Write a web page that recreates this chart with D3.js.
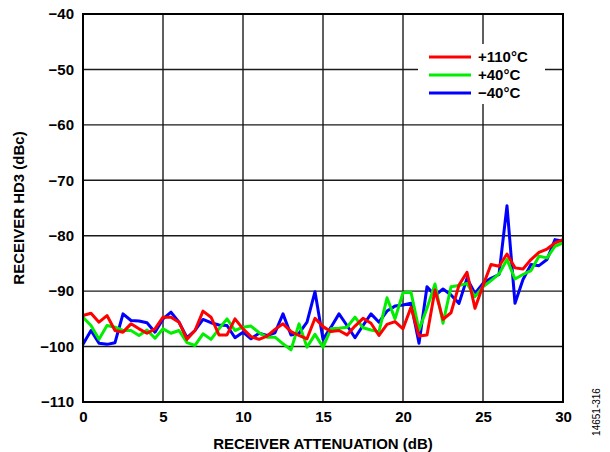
<!DOCTYPE html>
<html><head><meta charset="utf-8">
<script src="https://cdn.jsdelivr.net/npm/d3@7"></script>
<style>
body{margin:0;background:#fff;}
text{font-family:"Liberation Sans",Arial,sans-serif;}
</style></head>
<body><svg id="c" width="610" height="452"></svg>
<script>
const attenuation = d3.range(0, 30.01, 0.5);
const hd3_110C = [-94.4,-94.0,-95.6,-94.4,-97.1,-97.4,-95.9,-96.8,-97.6,-96.8,-94.7,-94.7,-95.6,-98.7,-97.1,-93.6,-94.7,-97.9,-97.9,-95.0,-96.8,
 -98.2,-98.7,-98.1,-96.9,-95.9,-97.3,-98.0,-98.6,-94.9,-96.4,-97.3,-97.1,-97.9,-96.3,-94.9,-95.8,-98.0,-96.0,-95.5,-96.8,
 -92.9,-98.1,-97.9,-89.8,-95.1,-93.9,-88.9,-86.6,-93.1,-89.0,-85.2,-85.5,-83.3,-85.8,-86.0,-84.3,-83.0,-82.4,-81.3,-80.7];
const hd3_40C = [-94.7,-96.2,-98.7,-96.2,-96.5,-97.1,-97.1,-98.0,-97.0,-98.5,-96.8,-97.6,-97.1,-99.3,-99.8,-97.7,-98.7,-96.8,-95.0,-97.1,-96.5,
 -96.3,-97.5,-98.3,-98.3,-99.5,-100.6,-95.9,-100.1,-97.8,-100.1,-96.8,-96.7,-96.5,-94.7,-96.6,-97.0,-97.3,-91.2,-95.0,-90.3,
 -90.2,-97.0,-93.1,-88.7,-95.8,-89.2,-89.0,-88.6,-91.0,-89.2,-88.1,-86.9,-84.3,-87.8,-87.0,-86.3,-83.7,-84.0,-81.9,-81.3];
const hd3_m40C = [-99.6,-97.1,-99.4,-99.6,-99.3,-94.1,-95.3,-95.4,-95.7,-97.4,-95.0,-93.8,-95.6,-98.4,-97.1,-95.1,-95.7,-96.1,-96.2,-98.4,-97.4,
 -98.6,-97.6,-98.0,-97.5,-94.1,-97.9,-97.6,-95.6,-90.1,-98.7,-96.5,-94.1,-96.2,-98.4,-96.2,-94.1,-95.6,-93.6,-92.7,-92.5,
 -92.2,-99.4,-89.2,-90.8,-89.6,-90.7,-92.2,-87.7,-90.4,-88.6,-87.7,-87.0,-74.6,-92.2,-87.9,-85.2,-85.4,-84.3,-80.7,-81.0];
const seriesNames = ["+110°C","+40°C","\u221240°C"];
const seriesColors = ["#ff0000","#00ee00","#0000ff"];
const xTicks = [0,5,10,15,20,25,30];
const yTicks = [-110,-100,-90,-80,-70,-60,-50,-40];

const FS = 15;
const svg = d3.select("#c");
const L=83, R=563, T=14, B=402;
const x = d3.scaleLinear().domain([0,30]).range([L,R]);
const y = d3.scaleLinear().domain([-110,-40]).range([B,T]);

// grid
const g = svg.append("g");
g.selectAll(".vx").data(xTicks).join("line").attr("x1",d=>x(d)).attr("x2",d=>x(d)).attr("y1",T).attr("y2",B)
 .attr("stroke","#1a1a1a").attr("stroke-width",1.4);
g.selectAll(".hy").data(yTicks).join("line").attr("y1",d=>y(d)).attr("y2",d=>y(d)).attr("x1",L).attr("x2",R)
 .attr("stroke","#1a1a1a").attr("stroke-width",1.4);

// legend background
svg.append("rect").attr("x",418).attr("y",44).attr("width",127).attr("height",60).attr("fill","#fff");

// lines
const all = [hd3_110C, hd3_40C, hd3_m40C];
const line = d3.line().x((d,i)=>x(attenuation[i])).y(d=>y(d));
[2,1,0].forEach(k=>{
  svg.append("path").datum(all[k]).attr("d",line).attr("fill","none")
   .attr("stroke",seriesColors[k]).attr("stroke-width",3).attr("stroke-linejoin","round");
});

// frame
svg.append("rect").attr("x",L).attr("y",T).attr("width",R-L).attr("height",B-T)
 .attr("fill","none").attr("stroke","#000").attr("stroke-width",2);

// axes labels
const xa = svg.append("g").attr("transform",`translate(0,${B})`)
 .call(d3.axisBottom(x).tickValues(xTicks).tickSize(0).tickPadding(9).tickFormat(d3.format("d")));
xa.select(".domain").remove();
xa.selectAll("text").attr("font-size",FS).attr("font-weight","bold").attr("fill","#000")
 .attr("font-family","Liberation Sans, Arial, sans-serif");
const ya = svg.append("g").attr("transform",`translate(${L},0)`)
 .call(d3.axisLeft(y).tickValues(yTicks).tickSize(0).tickPadding(9).tickFormat(d=>d<0?"\u2212"+Math.abs(d):d));
ya.select(".domain").remove();
ya.selectAll("text").attr("font-size",FS).attr("font-weight","bold").attr("fill","#000")
 .attr("font-family","Liberation Sans, Arial, sans-serif");

svg.append("text").attr("x",(L+R)/2).attr("y",449).attr("text-anchor","middle")
 .attr("font-size",FS).attr("font-weight","bold").text("RECEIVER ATTENUATION (dB)");
svg.append("text").attr("transform",`translate(24,${(T+B)/2}) rotate(-90)`).attr("text-anchor","middle")
 .attr("font-size",FS).attr("font-weight","bold").text("RECEIVER HD3 (dBc)");
svg.append("text").attr("transform",`translate(600,412) rotate(-90)`).attr("text-anchor","middle")
 .attr("font-size",10).text("14651-316");

// legend
const lg = svg.append("g");
seriesNames.forEach((n,i)=>{
  const yy = 57 + i*18;
  lg.append("line").attr("x1",429).attr("x2",471).attr("y1",yy).attr("y2",yy)
    .attr("stroke",seriesColors[i]).attr("stroke-width",3);
  lg.append("text").attr("x",478).attr("y",yy+5).attr("font-size",FS).attr("font-weight","bold").text(n);
});
</script></body></html>
